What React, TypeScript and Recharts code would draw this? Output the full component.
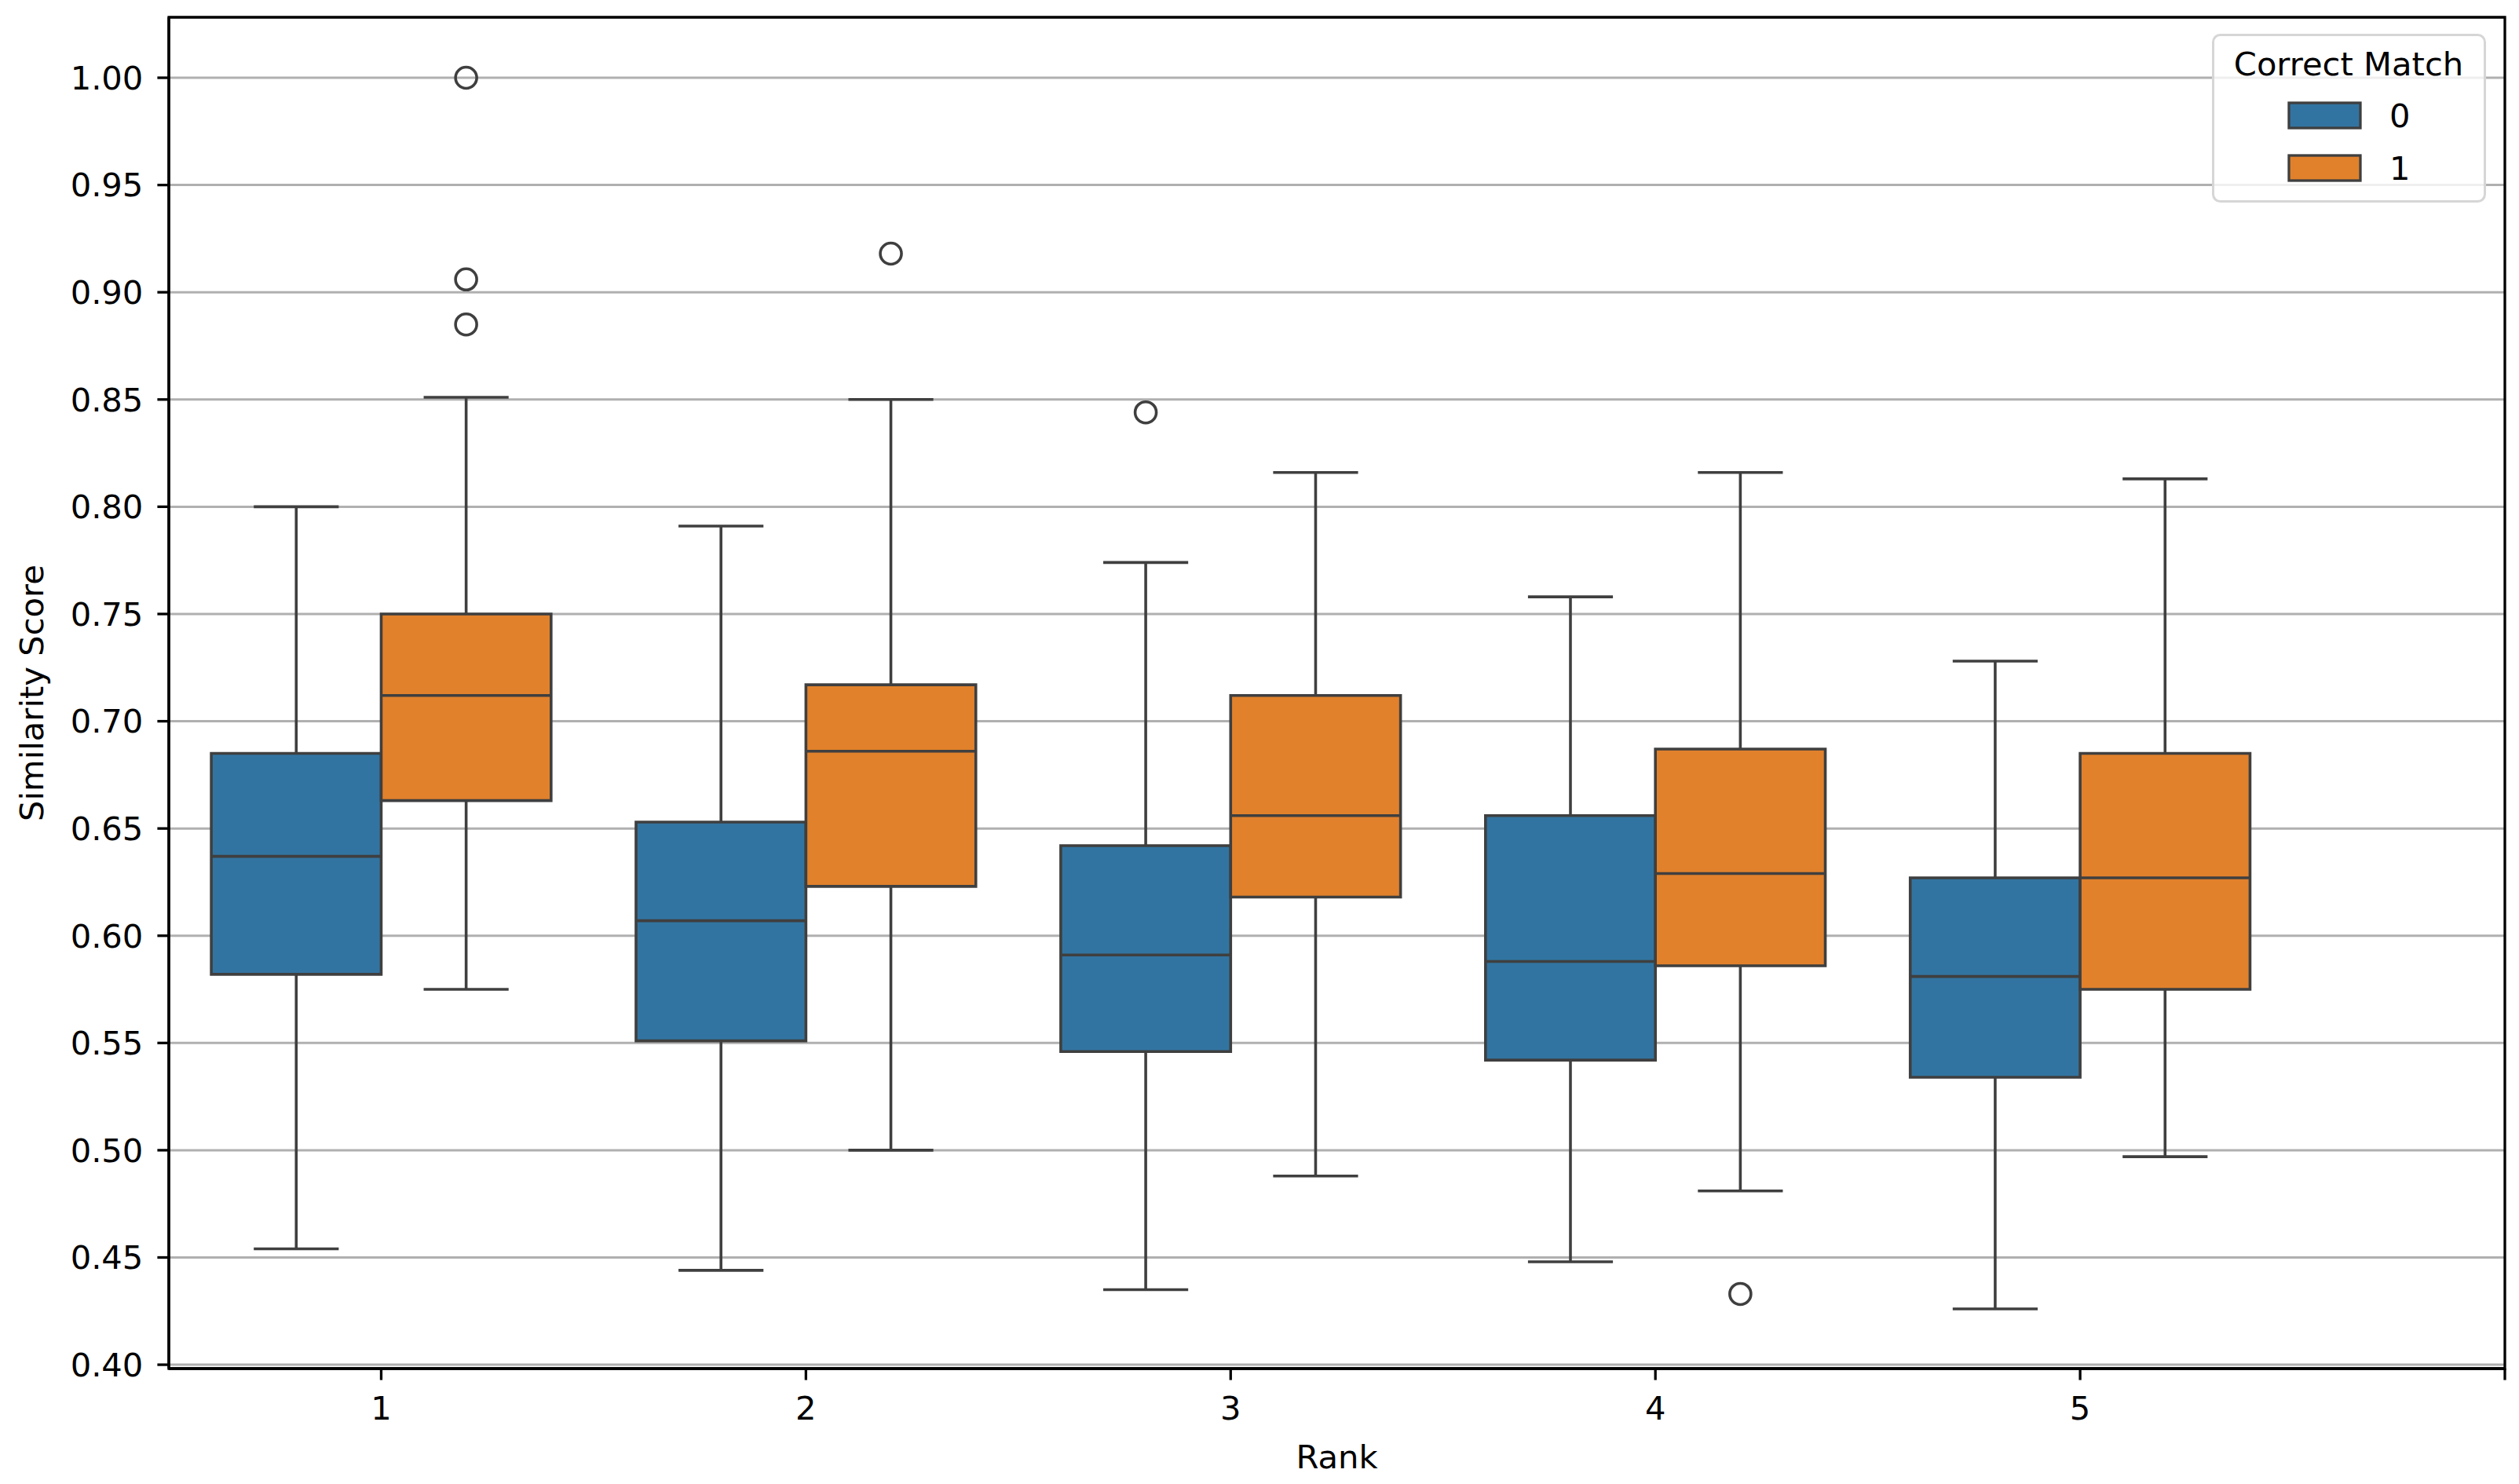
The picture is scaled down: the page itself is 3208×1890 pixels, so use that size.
import React from "react";
import {
  ComposedChart,
  XAxis,
  YAxis,
  CartesianGrid,
  ReferenceArea,
  ReferenceLine,
  Scatter,
  Legend,
  Label,
} from "recharts";

// ---------- data ----------
const ranks = [1, 2, 3, 4, 5];
const groupNames = ["0", "1"];
const groupColors = ["#3274A1", "#E1812C"];

// Correct Match = 0
const low0 = [0.454, 0.444, 0.435, 0.448, 0.426];
const q1_0 = [0.582, 0.551, 0.546, 0.542, 0.534];
const median0 = [0.637, 0.607, 0.591, 0.588, 0.581];
const q3_0 = [0.685, 0.653, 0.642, 0.656, 0.627];
const high0 = [0.8, 0.791, 0.774, 0.758, 0.728];
const outlierRank0 = [3];
const outlierValue0 = [0.844];

// Correct Match = 1
const low1 = [0.575, 0.5, 0.488, 0.481, 0.497];
const q1_1 = [0.663, 0.623, 0.618, 0.586, 0.575];
const median1 = [0.712, 0.686, 0.656, 0.629, 0.627];
const q3_1 = [0.75, 0.717, 0.712, 0.687, 0.685];
const high1 = [0.851, 0.85, 0.816, 0.816, 0.813];
const outlierRank1 = [1, 1, 1, 2, 4];
const outlierValue1 = [1.0, 0.906, 0.885, 0.918, 0.433];

const yTicks = [0.4, 0.45, 0.5, 0.55, 0.6, 0.65, 0.7, 0.75, 0.8, 0.85, 0.9, 0.95, 1.0];
const xTicks = [1, 2, 3, 4, 5, 6];
const xTickLabels = ["1", "2", "3", "4", "5", ""];
const X_DOMAIN = [0.5, 6];
const Y_DOMAIN = [0.3982, 1.0282];

// ---------- style ----------
const FONT = "'DejaVu Sans', sans-serif";
const FS = 41.67;
const EDGE = "#3f3f3f";
const LW = 3.6;
const SPINE = 3.3;
const BOX_HALF = 0.2;
const CAP_HALF = 0.1;
const DODGE = [-0.2, 0.2];

const groups = [
  { name: groupNames[0], color: groupColors[0], dodge: DODGE[0], lo: low0, q1: q1_0, med: median0, q3: q3_0, hi: high0, oRank: outlierRank0, oVal: outlierValue0 },
  { name: groupNames[1], color: groupColors[1], dodge: DODGE[1], lo: low1, q1: q1_1, med: median1, q3: q3_1, hi: high1, oRank: outlierRank1, oVal: outlierValue1 },
];

const outlierData = groups.flatMap((g) =>
  g.oRank.map((r, i) => ({ x: r + g.dodge, y: g.oVal[i] }))
);

const OutlierShape = (props: any) => {
  const { cx, cy } = props;
  if (cx == null || cy == null) return null;
  return <circle cx={cx} cy={cy} r={13.5} fill="none" stroke={EDGE} strokeWidth={3.6} />;
};

const LegendBox = () => (
  <svg width={349} height={215} style={{ display: "block", fontFamily: FONT }}>
    <rect x={1.5} y={1.5} width={346} height={212} rx={9} ry={9} fill="#ffffff" fillOpacity={0.8} stroke="#d6d6d6" strokeWidth={3} />
    <text x={174} y={53} textAnchor="middle" fontSize={FS} fill="#000">
      Correct Match
    </text>
    {groups.map((g, i) => (
      <g key={g.name}>
        <rect x={98} y={88 + i * 67} width={91} height={32} fill={g.color} stroke={EDGE} strokeWidth={3.3} />
        <text x={226} y={119 + i * 67} fontSize={FS} fill="#000">
          {g.name}
        </text>
      </g>
    ))}
  </svg>
);

export default function App() {
  const whiskers: any[] = [];
  const boxes: any[] = [];
  const medians: any[] = [];

  groups.forEach((g, gi) => {
    ranks.forEach((r, i) => {
      const c = r + g.dodge;
      whiskers.push(
        <ReferenceLine key={`wu-${gi}-${i}`} segment={[{ x: c, y: g.q3[i] }, { x: c, y: g.hi[i] }]} stroke={EDGE} strokeWidth={LW} />,
        <ReferenceLine key={`wl-${gi}-${i}`} segment={[{ x: c, y: g.lo[i] }, { x: c, y: g.q1[i] }]} stroke={EDGE} strokeWidth={LW} />,
        <ReferenceLine key={`cu-${gi}-${i}`} segment={[{ x: c - CAP_HALF, y: g.hi[i] }, { x: c + CAP_HALF, y: g.hi[i] }]} stroke={EDGE} strokeWidth={LW} />,
        <ReferenceLine key={`cl-${gi}-${i}`} segment={[{ x: c - CAP_HALF, y: g.lo[i] }, { x: c + CAP_HALF, y: g.lo[i] }]} stroke={EDGE} strokeWidth={LW} />
      );
      boxes.push(
        <ReferenceArea
          key={`b-${gi}-${i}`}
          x1={c - BOX_HALF}
          x2={c + BOX_HALF}
          y1={g.q1[i]}
          y2={g.q3[i]}
          fill={g.color}
          fillOpacity={1}
          stroke={EDGE}
          strokeWidth={LW}
          strokeOpacity={1}
        />
      );
      medians.push(
        <ReferenceLine key={`m-${gi}-${i}`} segment={[{ x: c - BOX_HALF, y: g.med[i] }, { x: c + BOX_HALF, y: g.med[i] }]} stroke={EDGE} strokeWidth={LW} />
      );
    });
  });

  const axisLineStyle = { stroke: "#000", strokeWidth: SPINE };
  const tickStyle = { fill: "#000", fontSize: FS, fontFamily: FONT };

  return (
    <div>
      <style>{"body{margin:0;background:#fff}"}</style>
      <ComposedChart
        width={3208}
        height={1890}
        margin={{ top: 22, right: 18, bottom: 0, left: 0 }}
        style={{ fontFamily: FONT }}
      >
        <CartesianGrid horizontal vertical={false} stroke="#b0b0b0" strokeWidth={3} />
        <XAxis
          xAxisId={0}
          dataKey="x"
          type="number"
          domain={X_DOMAIN}
          allowDataOverflow
          ticks={xTicks}
          interval={0}
          tickFormatter={(v: number) => xTickLabels[xTicks.indexOf(v)] ?? ""}
          height={147}
          tickSize={14.6}
          tickMargin={21}
          axisLine={axisLineStyle}
          tickLine={axisLineStyle}
          tick={tickStyle}
        >
          <Label value="Rank" position="insideBottom" offset={20} style={{ fontSize: FS, fontFamily: FONT, fill: "#000" }} />
        </XAxis>
        <YAxis
          yAxisId={0}
          dataKey="y"
          type="number"
          domain={Y_DOMAIN}
          allowDataOverflow
          ticks={yTicks}
          interval={0}
          tickFormatter={(v: number) => v.toFixed(2)}
          width={215}
          tickSize={14.6}
          tickMargin={18}
          axisLine={axisLineStyle}
          tickLine={axisLineStyle}
          tick={tickStyle}
        >
          <Label
            value="Similarity Score"
            angle={-90}
            position="insideLeft"
            offset={40}
            style={{ fontSize: FS, fontFamily: FONT, fill: "#000", textAnchor: "middle" }}
          />
        </YAxis>
        {whiskers}
        {boxes}
        {medians}
        <ReferenceArea
          xAxisId={0}
          yAxisId={0}
          x1={X_DOMAIN[0]}
          x2={X_DOMAIN[1]}
          y1={Y_DOMAIN[0]}
          y2={Y_DOMAIN[1]}
          ifOverflow="visible"
          fill="none"
          fillOpacity={0}
          stroke="#000"
          strokeWidth={SPINE}
          strokeOpacity={1}
        />
        <Scatter
          data={outlierData}
          dataKey="y"
          xAxisId={0}
          yAxisId={0}
          shape={OutlierShape}
          legendType="none"
          isAnimationActive={false}
        />
        <Legend
          layout="horizontal"
          verticalAlign="middle"
          align="center"
          wrapperStyle={{ left: 2817, top: 43, width: 349, height: 215 }}
          content={() => <LegendBox />}
        />
      </ComposedChart>
    </div>
  );
}
